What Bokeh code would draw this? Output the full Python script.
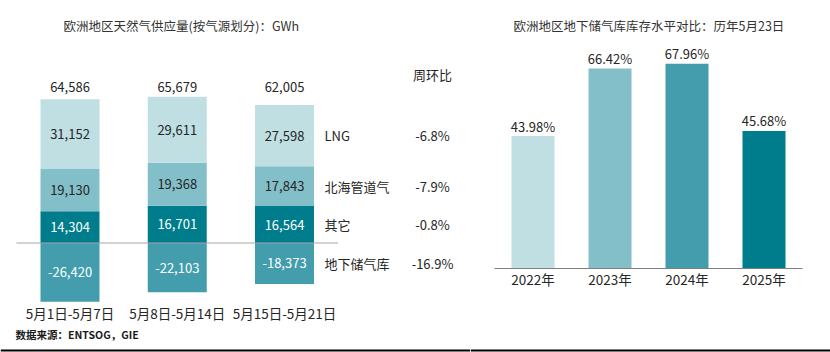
from bokeh.plotting import figure
from bokeh.models import Range1d, Span
from bokeh.layouts import row
from bokeh.core.properties import value
from bokeh.embed import file_html
from bokeh.resources import INLINE

# ---------------- data ----------------
categories = ["5月1日-5月7日", "5月8日-5月14日", "5月15日-5月21日"]
lng = [31152, 29611, 27598]
north_sea = [19130, 19368, 17843]
other = [14304, 16701, 16564]
storage = [-26420, -22103, -18373]
totals = [64586, 65679, 62005]
series_names = ["LNG", "北海管道气", "其它", "地下储气库"]
wow_change = [-6.8, -7.9, -0.8, -16.9]
years = ["2022年", "2023年", "2024年", "2025年"]
storage_level = [43.98, 66.42, 67.96, 45.68]

left_title = "欧洲地区天然气供应量(按气源划分)：GWh"
right_title = "欧洲地区地下储气库库存水平对比：历年5月23日"
wow_header = "周环比"
source_note = "数据来源：ENTSOG，GIE"

# ---------------- style ----------------
FONT = value("Noto Sans CJK SC")
C_LNG = "#BFDFE3"
C_NS = "#83BFC9"
C_OTHER = "#007D8C"
C_STOR = "#439DAD"
YEAR_COLORS = ["#BFDFE3", "#83BFC9", "#439DAD", "#007D8C"]
DARK = "#262626"
H = 352
LW, RW = 470, 360

# left figure pixel <-> data helpers
L_ZERO, L_UPP, L_X0, L_STEP = 242.5, 449.0, 69.5, 107.25
def lx(px): return (px - L_X0) / L_STEP
def ly(py): return (L_ZERO - py) * L_UPP

# right figure pixel <-> data helpers
R_ZERO, R_UPP, R_X0, R_STEP = 268.0, 0.332, 62.5, 77.0
def rx(px): return (px - R_X0) / R_STEP
def ry(py): return (R_ZERO - py) * R_UPP


def base_fig(w, xr, yr):
    p = figure(width=w, height=H, x_range=xr, y_range=yr, output_backend="svg",
               toolbar_location=None, min_border=0, outline_line_color=None,
               background_fill_color="white", border_fill_color="white")
    p.axis.visible = False
    p.grid.visible = False
    return p

# ---------------- left chart ----------------
pl = base_fig(LW, Range1d(lx(0), lx(LW)), Range1d(ly(H), ly(0)))
idx = list(range(len(categories)))
BW = 0.55
b_ns = [o + n for o, n in zip(other, north_sea)]
b_top = [b + l for b, l in zip(b_ns, lng)]

pl.vbar(x=idx, bottom=0, top=other, width=BW, fill_color=C_OTHER, line_color=None)
pl.vbar(x=idx, bottom=other, top=b_ns, width=BW, fill_color=C_NS, line_color=None)
pl.vbar(x=idx, bottom=b_ns, top=b_top, width=BW, fill_color=C_LNG, line_color=None)
pl.vbar(x=idx, bottom=storage, top=0, width=BW, fill_color=C_STOR, line_color=None)
pl.segment(x0=[-0.5], y0=[0], x1=[len(categories) - 0.5], y1=[0],
           line_color="#a6a6a6", line_width=1.2)

fmt = lambda v: f"{v:,}"
txt = dict(text_font=FONT, text_font_size="13px", text_align="center", text_baseline="middle")
pl.text(x=idx, y=[(b + t) / 2 for b, t in zip(b_ns, b_top)], text=[fmt(v) for v in lng], text_color=DARK, **txt)
pl.text(x=idx, y=[(b + t) / 2 for b, t in zip(other, b_ns)], text=[fmt(v) for v in north_sea], text_color=DARK, **txt)
pl.text(x=idx, y=[t / 2 for t in other], text=[fmt(v) for v in other], text_color="white", **txt)
pl.text(x=idx, y=[s / 2 for s in storage], text=[fmt(v) for v in storage], text_color="white", **txt)
pl.text(x=idx, y=[ly(86)] * len(idx), text=[fmt(v) for v in totals], text_color=DARK, **txt)

# category labels
pl.text(x=idx, y=[ly(312)] * len(idx), text=categories, text_color=DARK,
        text_font=FONT, text_font_size="13.5px", text_align="center", text_baseline="middle")

# series labels aligned with last bar's segments
last = len(categories) - 1
seg_y = [(b_ns[last] + b_top[last]) / 2, (other[last] + b_ns[last]) / 2,
         other[last] / 2, storage[last] / 2]
pl.text(x=[lx(324)] * 4, y=seg_y, text=series_names, text_color=DARK,
        text_font=FONT, text_font_size="13px", text_align="left", text_baseline="middle")
pl.text(x=[lx(432)] * 4, y=seg_y, text=[f"{v:.1f}%" for v in wow_change], text_color=DARK, **txt)
pl.text(x=[lx(432)], y=[ly(74)], text=[wow_header], text_color=DARK, **txt)

pl.text(x=[lx(63)], y=[ly(25)], text=[left_title], text_color="#333333",
        text_font=FONT, text_font_size="12.5px", text_align="left", text_baseline="middle")
pl.text(x=[lx(15)], y=[ly(334)], text=[source_note], text_color="#1a1a1a",
        text_font=FONT, text_font_size="10.5px", text_font_style="bold",
        text_align="left", text_baseline="middle")
pl.add_layout(Span(location=ly(350), dimension="width", line_color="black", line_width=2))

# ---------------- right chart ----------------
pr = base_fig(RW, Range1d(rx(0), rx(RW)), Range1d(ry(H), ry(0)))
ridx = list(range(len(years)))
pr.vbar(x=ridx, bottom=0, top=storage_level, width=43 / R_STEP, fill_color=YEAR_COLORS, line_color=None)
pr.segment(x0=[-0.5], y0=[0], x1=[len(years) - 0.5], y1=[0], line_color="#7f7f7f", line_width=1.2)
pr.text(x=ridx, y=[v + 10 * R_UPP for v in storage_level], text=[f"{v:.2f}%" for v in storage_level],
        text_color=DARK, **txt)
pr.text(x=ridx, y=[ry(278)] * len(ridx), text=years, text_color=DARK,
        text_font=FONT, text_font_size="13.5px", text_align="center", text_baseline="middle")
pr.text(x=[rx(43)], y=[ry(25)], text=[right_title], text_color="#333333",
        text_font=FONT, text_font_size="12.5px", text_align="left", text_baseline="middle")
pr.add_layout(Span(location=ry(350), dimension="width", line_color="black", line_width=2))

layout = row(pl, pr, spacing=0)
open("out.html", "w").write(file_html(layout, INLINE))
